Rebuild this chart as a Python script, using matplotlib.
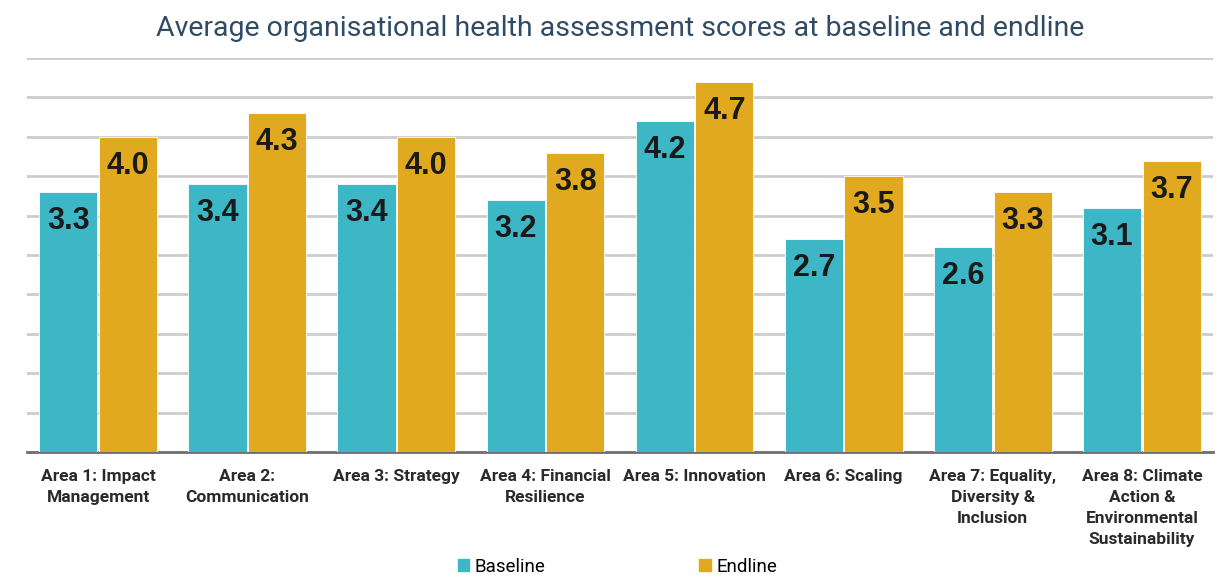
import matplotlib
matplotlib.use("Agg")
import matplotlib.pyplot as plt
from matplotlib.patches import Patch
import numpy as np

categories = [
    "Area 1: Impact\nManagement",
    "Area 2:\nCommunication",
    "Area 3: Strategy",
    "Area 4: Financial\nResilience",
    "Area 5: Innovation",
    "Area 6: Scaling",
    "Area 7: Equality,\nDiversity &\nInclusion",
    "Area 8: Climate\nAction &\nEnvironmental\nSustainability",
]
baseline = [3.3, 3.4, 3.4, 3.2, 4.2, 2.7, 2.6, 3.1]
endline = [4.0, 4.3, 4.0, 3.8, 4.7, 3.5, 3.3, 3.7]
series_names = ["Baseline", "Endline"]
title = "Average organisational health assessment scores at baseline and endline"

teal = "#3DB7C5"
gold = "#E1A91F"
cond = ["Liberation Sans Narrow", "Roboto", "DejaVu Sans"]

fig = plt.figure(figsize=(12.18, 5.81), dpi=100)
ax = fig.add_axes([0.0222, 0.222, 0.9737, 0.678])

x = np.arange(len(categories))
w = 0.39
off = 0.2
b1 = ax.bar(x - off, baseline, w, color=teal, edgecolor="white", linewidth=0.6, zorder=3)
b2 = ax.bar(x + off, endline, w, color=gold, edgecolor="white", linewidth=0.6, zorder=3)

for bars, vals in ((b1, baseline), (b2, endline)):
    for r, v in zip(bars, vals):
        ax.annotate(f"{v:.1f}", (r.get_x() + r.get_width() / 2, v),
                    xytext=(0, -21), textcoords="offset points",
                    ha="center", va="center", fontsize=22, fontweight="bold",
                    color="#1a1a1a", family=["Liberation Sans", "DejaVu Sans"], zorder=4)

ax.set_xlim(-0.477, 7.477)
ax.set_ylim(0, 5)
ax.set_yticks(np.arange(0.5, 5.01, 0.5))
ax.yaxis.grid(True, color="#cccccc", linewidth=2, zorder=0)
ax.tick_params(axis="y", left=False, labelleft=False)
ax.set_xticks(x)
ax.set_xticklabels(categories, fontsize=12.5, fontweight="bold", color="#2a2a2a",
                   family=cond, linespacing=1.52)
ax.tick_params(axis="x", length=0, pad=12)
for s in ("top", "left", "right"):
    ax.spines[s].set_visible(False)
ax.spines["bottom"].set_color("#6e6e6e")
ax.spines["bottom"].set_linewidth(2)

fig.text(0.509, 0.951, title, ha="center", va="center", fontsize=20.5,
         color="#2F4B66", family=["Roboto", "DejaVu Sans"])

handles = [Patch(color=teal), Patch(color=gold)]
fig.legend(handles, series_names, loc="center", bbox_to_anchor=(0.507, 0.024), ncol=2,
           frameon=False, handlelength=0.6, handleheight=0.6,
           handletextpad=0.3, columnspacing=8.2,
           prop={"family": ["Roboto", "DejaVu Sans"], "size": 13.5})

fig.savefig("out.png", dpi=100, facecolor="white")
